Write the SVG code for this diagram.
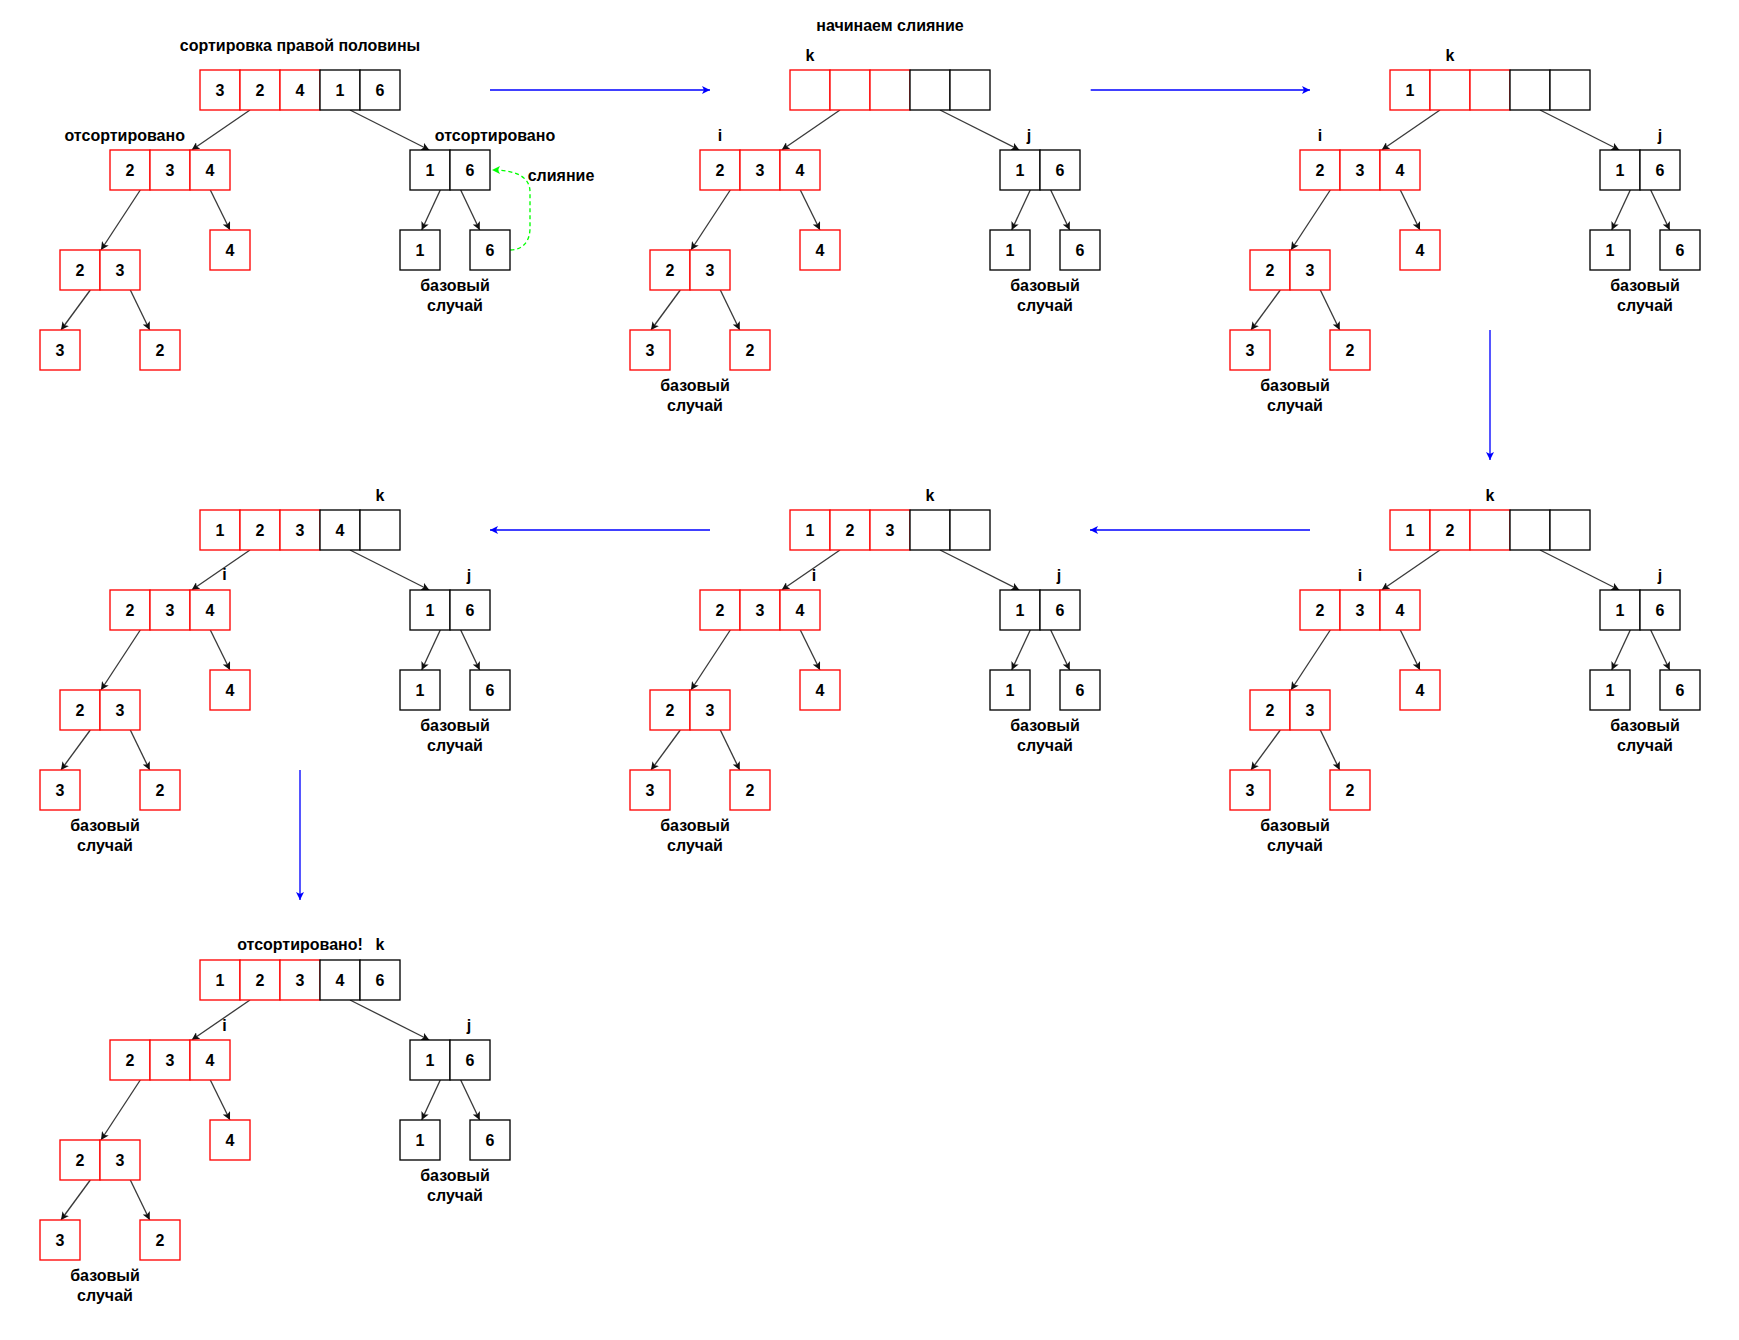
<svg xmlns="http://www.w3.org/2000/svg" xmlns:xlink="http://www.w3.org/1999/xlink" width="1739" height="1340" viewBox="0 0 1739 1340">
<style>
  .r { fill: #fff; stroke: #ff0000; stroke-width: 1.33; }
  .b { fill: #fff; stroke: #000; stroke-width: 1.33; }
  text { font-family: "Liberation Sans", Arial, Helvetica, sans-serif; font-size: 16px; font-weight: bold; fill: #000; text-anchor: middle; }
  .st { text-anchor: start; }
  .e { stroke: #3a3a3a; stroke-width: 1.33; fill: none; marker-end: url(#ah); }
  .blue { stroke: #0000ff; stroke-width: 1.33; fill: none; marker-end: url(#ahb); }
  .merge { stroke: #00ff00; stroke-width: 1.33; fill: none; stroke-dasharray: 4 3; marker-end: url(#ahg); }
</style>
<defs>
  <marker id="ah" viewBox="-8 -4 8 8" refX="0" refY="0" markerWidth="8" markerHeight="8" markerUnits="userSpaceOnUse" orient="auto">
    <path d="M0,0 L-8,-4 L-6,0 L-8,4 Z" fill="#111"/>
  </marker>
  <marker id="ahb" viewBox="-8 -4 8 8" refX="0" refY="0" markerWidth="8" markerHeight="8" markerUnits="userSpaceOnUse" orient="auto">
    <path d="M0,0 L-8,-4 L-6,0 L-8,4 Z" fill="#0000ff"/>
  </marker>
  <marker id="ahg" viewBox="-8 -4 8 8" refX="0" refY="0" markerWidth="8" markerHeight="8" markerUnits="userSpaceOnUse" orient="auto">
    <path d="M0,0 L-8,-4 L-6,0 L-8,4 Z" fill="#00ff00"/>
  </marker>
  <!-- tree edges shared by every step -->
  <g id="tree-edges">
    <line class="e" x1="250" y1="110" x2="191.7" y2="150"/>
    <line class="e" x1="350" y1="110" x2="429.3" y2="150"/>
    <line class="e" x1="140.3" y1="190" x2="101" y2="250"/>
    <line class="e" x1="210.3" y1="190" x2="230" y2="230"/>
    <line class="e" x1="90.3" y1="290" x2="61" y2="330"/>
    <line class="e" x1="130.3" y1="290" x2="149.7" y2="330"/>
    <line class="e" x1="440.3" y1="190" x2="421.7" y2="230"/>
    <line class="e" x1="460.7" y1="190" x2="479.7" y2="230"/>
  </g>
</defs>
<rect x="0" y="0" width="1739" height="1340" fill="#fff"/>

<!-- connectors -->
<g id="connectors">
  <use xlink:href="#tree-edges" href="#tree-edges" x="0" y="0"/>
  <use xlink:href="#tree-edges" href="#tree-edges" x="590" y="0"/>
  <use xlink:href="#tree-edges" href="#tree-edges" x="1190" y="0"/>
  <use xlink:href="#tree-edges" href="#tree-edges" x="0" y="440"/>
  <use xlink:href="#tree-edges" href="#tree-edges" x="590" y="440"/>
  <use xlink:href="#tree-edges" href="#tree-edges" x="1190" y="440"/>
  <use xlink:href="#tree-edges" href="#tree-edges" x="0" y="890"/>
  <path class="merge" d="M510.3,250 C522,250 530,242 530,228 L530,192 C530,178 518,170 492,170"/>
  <line class="blue" x1="490" y1="90" x2="710" y2="90"/>
  <line class="blue" x1="1090.7" y1="90" x2="1310" y2="90"/>
  <line class="blue" x1="1490" y1="330" x2="1490" y2="460"/>
  <line class="blue" x1="1310" y1="530" x2="1090" y2="530"/>
  <line class="blue" x1="710" y1="530" x2="490" y2="530"/>
  <line class="blue" x1="300" y1="770" x2="300" y2="900"/>
</g>

<!-- step 1: sorting the right half -->
<g id="step1">
  <g id="s1-top">
    <rect class="r" x="200" y="70" width="40" height="40"/><rect class="r" x="240" y="70" width="40" height="40"/><rect class="r" x="280" y="70" width="40" height="40"/>
    <rect class="b" x="320" y="70" width="40" height="40"/><rect class="b" x="360" y="70" width="40" height="40"/>
    <text x="220" y="95.7">3</text><text x="260" y="95.7">2</text><text x="300" y="95.7">4</text><text x="340" y="95.7">1</text><text x="380" y="95.7">6</text>
  </g>
  <g id="s1-left"><rect class="r" x="110" y="150" width="40" height="40"/><rect class="r" x="150" y="150" width="40" height="40"/><rect class="r" x="190" y="150" width="40" height="40"/><text x="130" y="175.7">2</text><text x="170" y="175.7">3</text><text x="210" y="175.7">4</text></g>
  <g id="s1-right"><rect class="b" x="410" y="150" width="40" height="40"/><rect class="b" x="450" y="150" width="40" height="40"/><text x="430" y="175.7">1</text><text x="470" y="175.7">6</text></g>
  <g id="s1-23"><rect class="r" x="60" y="250" width="40" height="40"/><rect class="r" x="100" y="250" width="40" height="40"/><text x="80" y="275.7">2</text><text x="120" y="275.7">3</text></g>
  <g id="s1-4"><rect class="r" x="210" y="230" width="40" height="40"/><text x="230" y="255.7">4</text></g>
  <g id="s1-3"><rect class="r" x="40" y="330" width="40" height="40"/><text x="60" y="355.7">3</text></g>
  <g id="s1-2"><rect class="r" x="140" y="330" width="40" height="40"/><text x="160" y="355.7">2</text></g>
  <g id="s1-1"><rect class="b" x="400" y="230" width="40" height="40"/><text x="420" y="255.7">1</text></g>
  <g id="s1-6"><rect class="b" x="470" y="230" width="40" height="40"/><text x="490" y="255.7">6</text></g>
  <text x="300" y="51">сортировка правой половины</text>
  <text x="124.7" y="141">отсортировано</text>
  <text x="495" y="141">отсортировано</text>
  <text class="st" x="527.7" y="181">слияние</text>
  <text x="455" y="291">базовый</text><text x="455" y="311">случай</text>
</g>

<!-- step 2: merge starts -->
<g id="step2" transform="translate(590,0)">
  <g id="s2-top">
    <rect class="r" x="200" y="70" width="40" height="40"/><rect class="r" x="240" y="70" width="40" height="40"/><rect class="r" x="280" y="70" width="40" height="40"/>
    <rect class="b" x="320" y="70" width="40" height="40"/><rect class="b" x="360" y="70" width="40" height="40"/>
  </g>
  <g id="s2-left"><rect class="r" x="110" y="150" width="40" height="40"/><rect class="r" x="150" y="150" width="40" height="40"/><rect class="r" x="190" y="150" width="40" height="40"/><text x="130" y="175.7">2</text><text x="170" y="175.7">3</text><text x="210" y="175.7">4</text></g>
  <g id="s2-right"><rect class="b" x="410" y="150" width="40" height="40"/><rect class="b" x="450" y="150" width="40" height="40"/><text x="430" y="175.7">1</text><text x="470" y="175.7">6</text></g>
  <g id="s2-23"><rect class="r" x="60" y="250" width="40" height="40"/><rect class="r" x="100" y="250" width="40" height="40"/><text x="80" y="275.7">2</text><text x="120" y="275.7">3</text></g>
  <g id="s2-4"><rect class="r" x="210" y="230" width="40" height="40"/><text x="230" y="255.7">4</text></g>
  <g id="s2-3"><rect class="r" x="40" y="330" width="40" height="40"/><text x="60" y="355.7">3</text></g>
  <g id="s2-2"><rect class="r" x="140" y="330" width="40" height="40"/><text x="160" y="355.7">2</text></g>
  <g id="s2-1"><rect class="b" x="400" y="230" width="40" height="40"/><text x="420" y="255.7">1</text></g>
  <g id="s2-6"><rect class="b" x="470" y="230" width="40" height="40"/><text x="490" y="255.7">6</text></g>
  <text x="300" y="31">начинаем слияние</text>
  <text x="220" y="61">k</text>
  <text x="130" y="141">i</text>
  <text x="439" y="141">j</text>
  <text x="105" y="391">базовый</text><text x="105" y="411">случай</text>
  <text x="455" y="291">базовый</text><text x="455" y="311">случай</text>
</g>

<!-- step 3: 1 taken from the right half -->
<g id="step3" transform="translate(1190,0)">
  <g id="s3-top">
    <rect class="r" x="200" y="70" width="40" height="40"/><rect class="r" x="240" y="70" width="40" height="40"/><rect class="r" x="280" y="70" width="40" height="40"/>
    <rect class="b" x="320" y="70" width="40" height="40"/><rect class="b" x="360" y="70" width="40" height="40"/>
    <text x="220" y="95.7">1</text>
  </g>
  <g id="s3-left"><rect class="r" x="110" y="150" width="40" height="40"/><rect class="r" x="150" y="150" width="40" height="40"/><rect class="r" x="190" y="150" width="40" height="40"/><text x="130" y="175.7">2</text><text x="170" y="175.7">3</text><text x="210" y="175.7">4</text></g>
  <g id="s3-right"><rect class="b" x="410" y="150" width="40" height="40"/><rect class="b" x="450" y="150" width="40" height="40"/><text x="430" y="175.7">1</text><text x="470" y="175.7">6</text></g>
  <g id="s3-23"><rect class="r" x="60" y="250" width="40" height="40"/><rect class="r" x="100" y="250" width="40" height="40"/><text x="80" y="275.7">2</text><text x="120" y="275.7">3</text></g>
  <g id="s3-4"><rect class="r" x="210" y="230" width="40" height="40"/><text x="230" y="255.7">4</text></g>
  <g id="s3-3"><rect class="r" x="40" y="330" width="40" height="40"/><text x="60" y="355.7">3</text></g>
  <g id="s3-2"><rect class="r" x="140" y="330" width="40" height="40"/><text x="160" y="355.7">2</text></g>
  <g id="s3-1"><rect class="b" x="400" y="230" width="40" height="40"/><text x="420" y="255.7">1</text></g>
  <g id="s3-6"><rect class="b" x="470" y="230" width="40" height="40"/><text x="490" y="255.7">6</text></g>
  <text x="260" y="61">k</text>
  <text x="130" y="141">i</text>
  <text x="470" y="141">j</text>
  <text x="105" y="391">базовый</text><text x="105" y="411">случай</text>
  <text x="455" y="291">базовый</text><text x="455" y="311">случай</text>
</g>

<!-- step 4: 2 taken from the left half -->
<g id="step4" transform="translate(1190,440)">
  <g id="s4-top">
    <rect class="r" x="200" y="70" width="40" height="40"/><rect class="r" x="240" y="70" width="40" height="40"/><rect class="r" x="280" y="70" width="40" height="40"/>
    <rect class="b" x="320" y="70" width="40" height="40"/><rect class="b" x="360" y="70" width="40" height="40"/>
    <text x="220" y="95.7">1</text><text x="260" y="95.7">2</text>
  </g>
  <g id="s4-left"><rect class="r" x="110" y="150" width="40" height="40"/><rect class="r" x="150" y="150" width="40" height="40"/><rect class="r" x="190" y="150" width="40" height="40"/><text x="130" y="175.7">2</text><text x="170" y="175.7">3</text><text x="210" y="175.7">4</text></g>
  <g id="s4-right"><rect class="b" x="410" y="150" width="40" height="40"/><rect class="b" x="450" y="150" width="40" height="40"/><text x="430" y="175.7">1</text><text x="470" y="175.7">6</text></g>
  <g id="s4-23"><rect class="r" x="60" y="250" width="40" height="40"/><rect class="r" x="100" y="250" width="40" height="40"/><text x="80" y="275.7">2</text><text x="120" y="275.7">3</text></g>
  <g id="s4-4"><rect class="r" x="210" y="230" width="40" height="40"/><text x="230" y="255.7">4</text></g>
  <g id="s4-3"><rect class="r" x="40" y="330" width="40" height="40"/><text x="60" y="355.7">3</text></g>
  <g id="s4-2"><rect class="r" x="140" y="330" width="40" height="40"/><text x="160" y="355.7">2</text></g>
  <g id="s4-1"><rect class="b" x="400" y="230" width="40" height="40"/><text x="420" y="255.7">1</text></g>
  <g id="s4-6"><rect class="b" x="470" y="230" width="40" height="40"/><text x="490" y="255.7">6</text></g>
  <text x="300" y="61">k</text>
  <text x="170" y="141">i</text>
  <text x="470" y="141">j</text>
  <text x="105" y="391">базовый</text><text x="105" y="411">случай</text>
  <text x="455" y="291">базовый</text><text x="455" y="311">случай</text>
</g>

<!-- step 5: 3 taken from the left half -->
<g id="step5" transform="translate(590,440)">
  <g id="s5-top">
    <rect class="r" x="200" y="70" width="40" height="40"/><rect class="r" x="240" y="70" width="40" height="40"/><rect class="r" x="280" y="70" width="40" height="40"/>
    <rect class="b" x="320" y="70" width="40" height="40"/><rect class="b" x="360" y="70" width="40" height="40"/>
    <text x="220" y="95.7">1</text><text x="260" y="95.7">2</text><text x="300" y="95.7">3</text>
  </g>
  <g id="s5-left"><rect class="r" x="110" y="150" width="40" height="40"/><rect class="r" x="150" y="150" width="40" height="40"/><rect class="r" x="190" y="150" width="40" height="40"/><text x="130" y="175.7">2</text><text x="170" y="175.7">3</text><text x="210" y="175.7">4</text></g>
  <g id="s5-right"><rect class="b" x="410" y="150" width="40" height="40"/><rect class="b" x="450" y="150" width="40" height="40"/><text x="430" y="175.7">1</text><text x="470" y="175.7">6</text></g>
  <g id="s5-23"><rect class="r" x="60" y="250" width="40" height="40"/><rect class="r" x="100" y="250" width="40" height="40"/><text x="80" y="275.7">2</text><text x="120" y="275.7">3</text></g>
  <g id="s5-4"><rect class="r" x="210" y="230" width="40" height="40"/><text x="230" y="255.7">4</text></g>
  <g id="s5-3"><rect class="r" x="40" y="330" width="40" height="40"/><text x="60" y="355.7">3</text></g>
  <g id="s5-2"><rect class="r" x="140" y="330" width="40" height="40"/><text x="160" y="355.7">2</text></g>
  <g id="s5-1"><rect class="b" x="400" y="230" width="40" height="40"/><text x="420" y="255.7">1</text></g>
  <g id="s5-6"><rect class="b" x="470" y="230" width="40" height="40"/><text x="490" y="255.7">6</text></g>
  <text x="340" y="61">k</text>
  <text x="224" y="141">i</text>
  <text x="469" y="141">j</text>
  <text x="105" y="391">базовый</text><text x="105" y="411">случай</text>
  <text x="455" y="291">базовый</text><text x="455" y="311">случай</text>
</g>

<!-- step 6: 4 taken from the left half -->
<g id="step6" transform="translate(0,440)">
  <g id="s6-top">
    <rect class="r" x="200" y="70" width="40" height="40"/><rect class="r" x="240" y="70" width="40" height="40"/><rect class="r" x="280" y="70" width="40" height="40"/>
    <rect class="b" x="320" y="70" width="40" height="40"/><rect class="b" x="360" y="70" width="40" height="40"/>
    <text x="220" y="95.7">1</text><text x="260" y="95.7">2</text><text x="300" y="95.7">3</text><text x="340" y="95.7">4</text>
  </g>
  <g id="s6-left"><rect class="r" x="110" y="150" width="40" height="40"/><rect class="r" x="150" y="150" width="40" height="40"/><rect class="r" x="190" y="150" width="40" height="40"/><text x="130" y="175.7">2</text><text x="170" y="175.7">3</text><text x="210" y="175.7">4</text></g>
  <g id="s6-right"><rect class="b" x="410" y="150" width="40" height="40"/><rect class="b" x="450" y="150" width="40" height="40"/><text x="430" y="175.7">1</text><text x="470" y="175.7">6</text></g>
  <g id="s6-23"><rect class="r" x="60" y="250" width="40" height="40"/><rect class="r" x="100" y="250" width="40" height="40"/><text x="80" y="275.7">2</text><text x="120" y="275.7">3</text></g>
  <g id="s6-4"><rect class="r" x="210" y="230" width="40" height="40"/><text x="230" y="255.7">4</text></g>
  <g id="s6-3"><rect class="r" x="40" y="330" width="40" height="40"/><text x="60" y="355.7">3</text></g>
  <g id="s6-2"><rect class="r" x="140" y="330" width="40" height="40"/><text x="160" y="355.7">2</text></g>
  <g id="s6-1"><rect class="b" x="400" y="230" width="40" height="40"/><text x="420" y="255.7">1</text></g>
  <g id="s6-6"><rect class="b" x="470" y="230" width="40" height="40"/><text x="490" y="255.7">6</text></g>
  <text x="380" y="61">k</text>
  <text x="224.5" y="140">i</text>
  <text x="469" y="141">j</text>
  <text x="105" y="391">базовый</text><text x="105" y="411">случай</text>
  <text x="455" y="291">базовый</text><text x="455" y="311">случай</text>
</g>

<!-- step 7: 6 copied, array sorted -->
<g id="step7" transform="translate(0,890)">
  <g id="s7-top">
    <rect class="r" x="200" y="70" width="40" height="40"/><rect class="r" x="240" y="70" width="40" height="40"/><rect class="r" x="280" y="70" width="40" height="40"/>
    <rect class="b" x="320" y="70" width="40" height="40"/><rect class="b" x="360" y="70" width="40" height="40"/>
    <text x="220" y="95.7">1</text><text x="260" y="95.7">2</text><text x="300" y="95.7">3</text><text x="340" y="95.7">4</text><text x="380" y="95.7">6</text>
  </g>
  <g id="s7-left"><rect class="r" x="110" y="150" width="40" height="40"/><rect class="r" x="150" y="150" width="40" height="40"/><rect class="r" x="190" y="150" width="40" height="40"/><text x="130" y="175.7">2</text><text x="170" y="175.7">3</text><text x="210" y="175.7">4</text></g>
  <g id="s7-right"><rect class="b" x="410" y="150" width="40" height="40"/><rect class="b" x="450" y="150" width="40" height="40"/><text x="430" y="175.7">1</text><text x="470" y="175.7">6</text></g>
  <g id="s7-23"><rect class="r" x="60" y="250" width="40" height="40"/><rect class="r" x="100" y="250" width="40" height="40"/><text x="80" y="275.7">2</text><text x="120" y="275.7">3</text></g>
  <g id="s7-4"><rect class="r" x="210" y="230" width="40" height="40"/><text x="230" y="255.7">4</text></g>
  <g id="s7-3"><rect class="r" x="40" y="330" width="40" height="40"/><text x="60" y="355.7">3</text></g>
  <g id="s7-2"><rect class="r" x="140" y="330" width="40" height="40"/><text x="160" y="355.7">2</text></g>
  <g id="s7-1"><rect class="b" x="400" y="230" width="40" height="40"/><text x="420" y="255.7">1</text></g>
  <g id="s7-6"><rect class="b" x="470" y="230" width="40" height="40"/><text x="490" y="255.7">6</text></g>
  <text x="300" y="60">отсортировано!</text>
  <text x="380" y="60">k</text>
  <text x="224.5" y="141">i</text>
  <text x="469" y="141">j</text>
  <text x="105" y="391">базовый</text><text x="105" y="411">случай</text>
  <text x="455" y="291">базовый</text><text x="455" y="311">случай</text>
</g>
</svg>
